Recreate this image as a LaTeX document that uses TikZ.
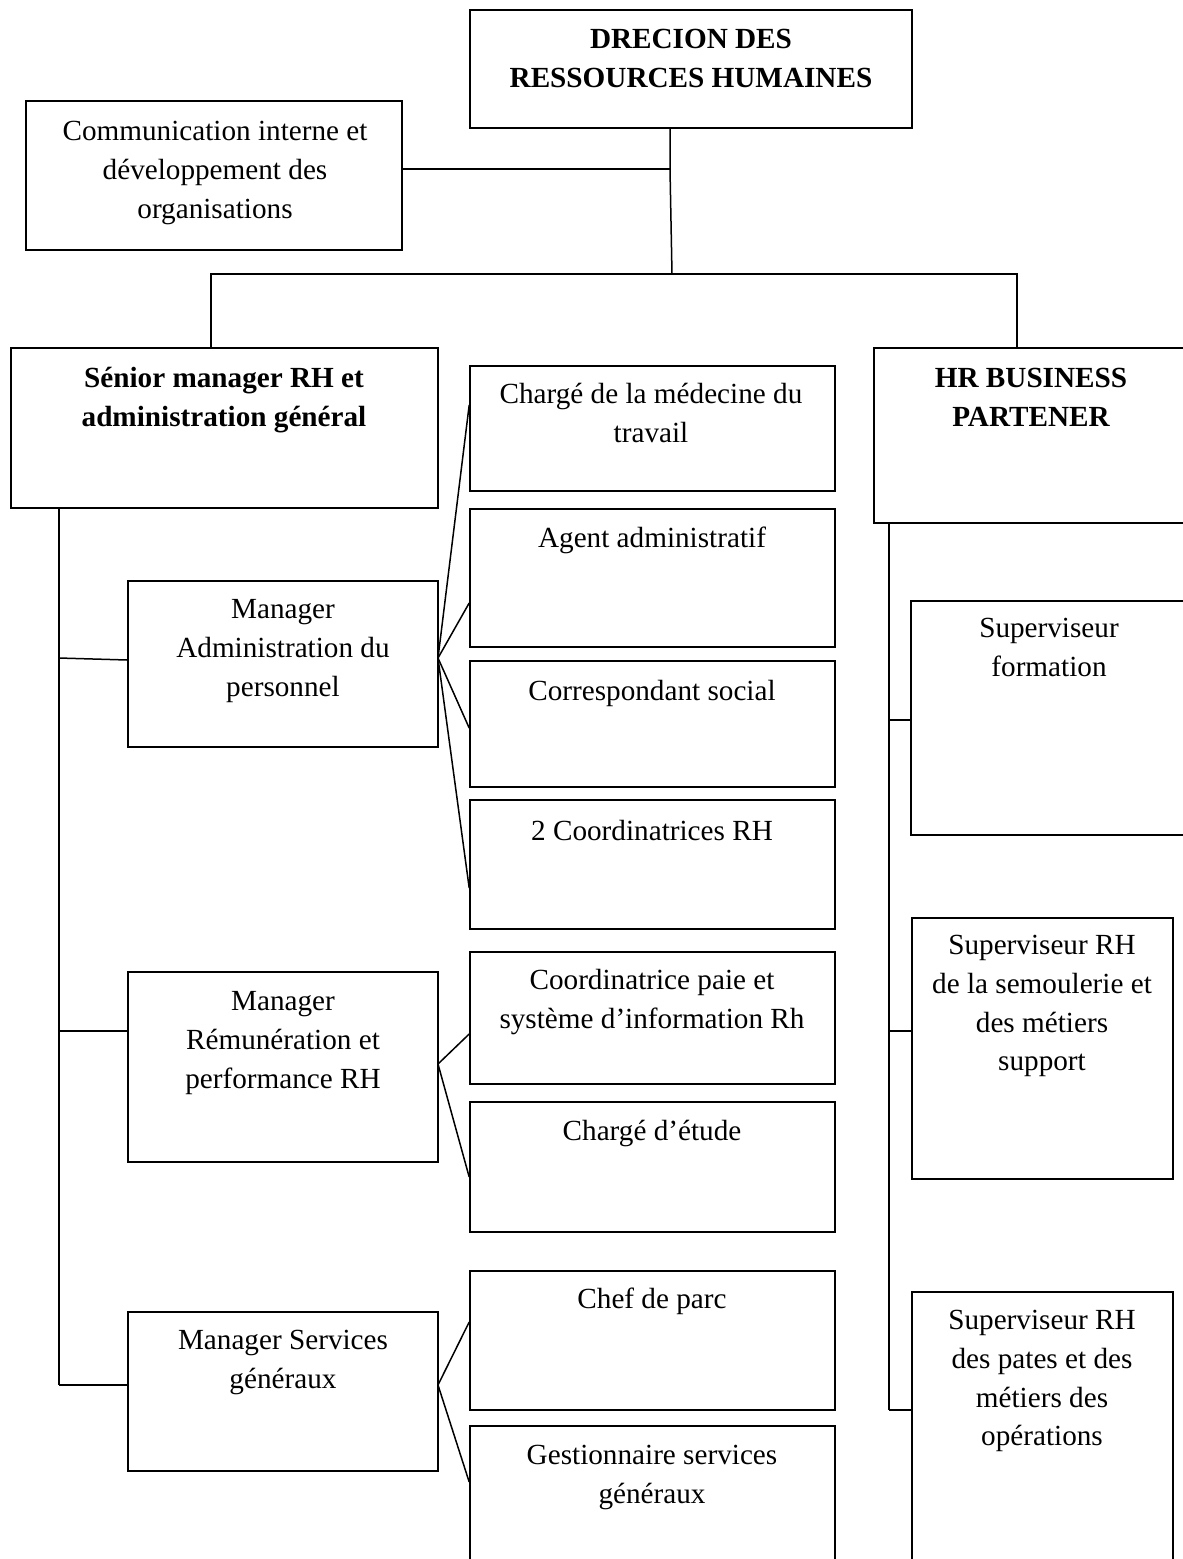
\documentclass[tikz,border=0pt]{standalone}
\usepackage{fontspec}
\setmainfont{Liberation Serif}
\usetikzlibrary{fit}
\newcommand{\fst}{\rule{0pt}{12pt}}
\begin{document}
\begin{tikzpicture}[x=0.5pt,y=-0.5pt,
  box/.style={draw,line width=0.8pt,inner sep=0pt,fill=none},
  txt/.style={anchor=north,align=center,inner sep=0pt,font=\fontsize{14.6}{19.4}\selectfont},
  btxt/.style={txt,font=\fontsize{14.6}{19.4}\selectfont\bfseries},
  link/.style={line width=0.75pt}]
\useasboundingbox (0,0) rectangle (1183,1559);
\clip (0,0) rectangle (1183,1559);
\fill[white] (0,0) rectangle (1183,1559);

% boxes
\node[box,fit={(470,10) (912,128)}] (drh) {};
\node[box,fit={(26,101) (402,250)}] (comm) {};
\node[box,fit={(11,348) (438,508)}] (senior) {};
\node[box,fit={(874,348) (1188,523)}] (hr) {};
\node[box,fit={(470,366) (835,491)}] (medecine) {};
\node[box,fit={(470,509) (835,647)}] (agent) {};
\node[box,fit={(470,661) (835,787)}] (corresp) {};
\node[box,fit={(470,800) (835,929)}] (coord) {};
\node[box,fit={(128,581) (438,747)}] (mgradmin) {};
\node[box,fit={(911,601) (1188,835)}] (formation) {};
\node[box,fit={(470,952) (835,1084)}] (paie) {};
\node[box,fit={(470,1102) (835,1232)}] (etude) {};
\node[box,fit={(128,972) (438,1162)}] (mgrrem) {};
\node[box,fit={(912,918) (1173,1179)}] (semoul) {};
\node[box,fit={(470,1271) (835,1410)}] (parc) {};
\node[box,fit={(470,1426) (835,1620)}] (gestion) {};
\node[box,fit={(128,1312) (438,1471)}] (mgrserv) {};
\node[box,fit={(912,1292) (1173,1620)}] (pates) {};

% texts
\node[btxt] (drh-t) at (691,24) {\fst DRECION DES\\RESSOURCES HUMAINES};
\node[txt] (comm-t) at (215,116) {\fst Communication interne et\\développement des\\organisations};
\node[btxt] (senior-t) at (224,363) {\fst Sénior manager RH et\\administration général};
\node[btxt] (hr-t) at (1031,363) {\fst HR BUSINESS\\PARTENER};
\node[txt] (medecine-t) at (651,379) {\fst Chargé de la médecine du\\travail};
\node[txt] (agent-t) at (652,523) {\fst Agent administratif};
\node[txt] (corresp-t) at (652,676) {\fst Correspondant social};
\node[txt] (coord-t) at (652,816) {\fst 2 Coordinatrices RH};
\node[txt] (mgradmin-t) at (283,594) {\fst Manager\\Administration du\\personnel};
\node[txt] (formation-t) at (1049,613) {\fst Superviseur\\formation};
\node[txt] (paie-t) at (652,965) {\fst Coordinatrice paie et\\système d’information Rh};
\node[txt] (etude-t) at (652,1116) {\fst Chargé d’étude};
\node[txt] (mgrrem-t) at (283,986) {\fst Manager\\Rémunération et\\performance RH};
\node[txt] (semoul-t) at (1042,930) {\fst Superviseur RH\\de la semoulerie et\\des métiers\\support};
\node[txt] (parc-t) at (652,1284) {\fst Chef de parc};
\node[txt] (gestion-t) at (652,1440) {\fst Gestionnaire services\\généraux};
\node[txt] (mgrserv-t) at (283,1325) {\fst Manager Services\\généraux};
\node[txt] (pates-t) at (1042,1305) {\fst Superviseur RH\\des pates et des\\métiers des\\opérations};

% junction coordinates
\coordinate (jt) at (670,169);
\coordinate (jb) at (672,274);
\coordinate (bl) at (211,274);
\coordinate (br) at (1017,274);
\coordinate (la) at (59,658);
\coordinate (lr) at (59,1031);
\coordinate (ls) at (59,1385);
\coordinate (ra) at (889,720);
\coordinate (rs) at (889,1031);
\coordinate (rp) at (889,1410);
\coordinate (fa) at (438,658);
\coordinate (fr) at (438,1064);
\coordinate (fs) at (438,1385);

% top connectors
\draw[link] (jt |- drh.south) -- (jt) -- (jb);
\draw[link] (comm.east |- jt) -- (jt);
\draw[link] (bl |- senior.north) -- (bl) -- (br) -- (br |- hr.north);

% left spine
\draw[link] (la |- senior.south) -- (ls);
\draw[link] (la) -- (mgradmin.west |- 0,660);
\draw[link] (lr) -- (mgrrem.west |- lr);
\draw[link] (ls) -- (mgrserv.west |- ls);

% right spine
\draw[link] (ra |- hr.south) -- (rp);
\draw[link] (ra) -- (formation.west |- ra);
\draw[link] (rs) -- (semoul.west |- rs);
\draw[link] (rp) -- (pates.west |- rp);

% fans
\draw[link] (fa) -- (medecine.west |- 0,405);
\draw[link] (fa) -- (agent.west |- 0,603);
\draw[link] (fa) -- (corresp.west |- 0,728);
\draw[link] (fa) -- (coord.west |- 0,888);
\draw[link] (fr) -- (paie.west |- 0,1034);
\draw[link] (fr) -- (etude.west |- 0,1177);
\draw[link] (fs) -- (parc.west |- 0,1322);
\draw[link] (fs) -- (gestion.west |- 0,1482);
\end{tikzpicture}
\end{document}
